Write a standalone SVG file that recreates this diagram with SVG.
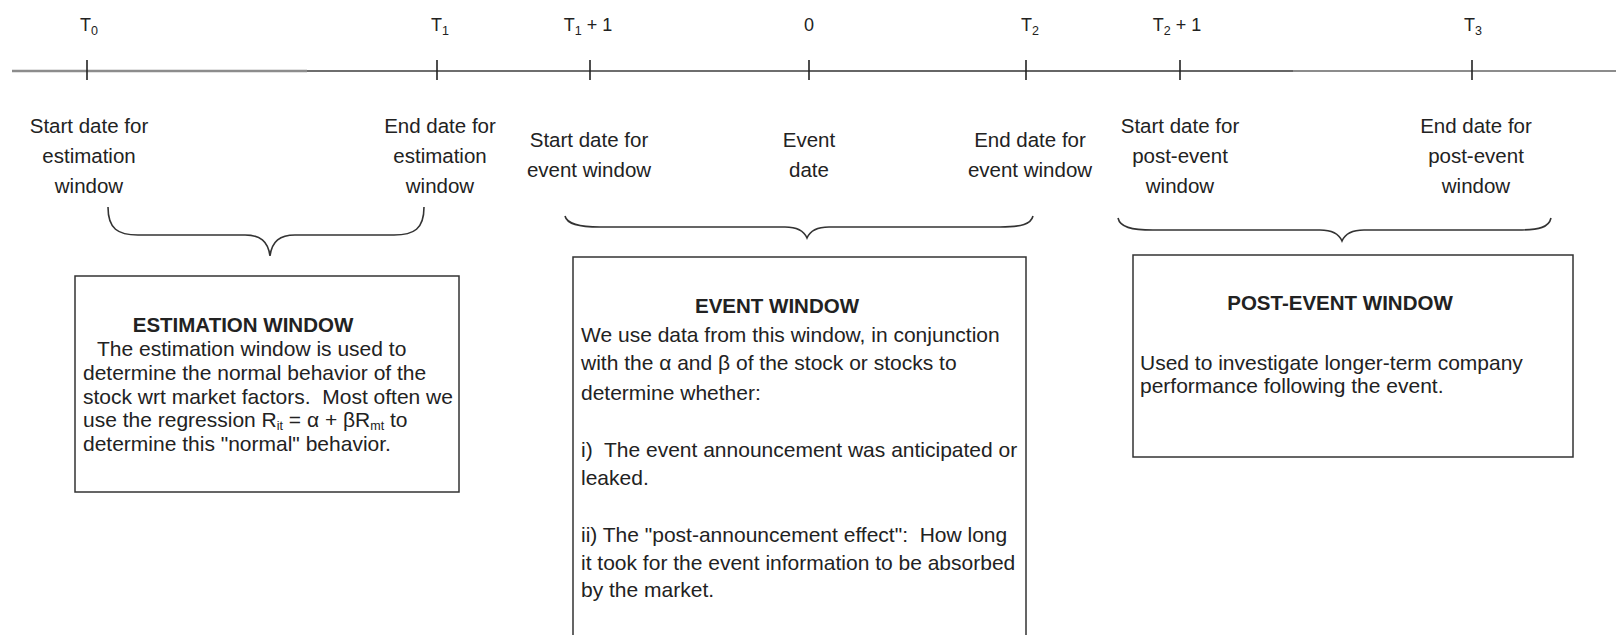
<svg xmlns="http://www.w3.org/2000/svg" width="1616" height="635" viewBox="0 0 1616 635">
  <style>
    text { font-family: "Liberation Sans", Arial, sans-serif; fill: #222; }
    .tick-label { font-size: 18px; text-anchor: middle; }
    .sub { font-size: 12.5px; }
    .date-label { font-size: 20.5px; text-anchor: middle; }
    .title { font-size: 20.5px; font-weight: bold; text-anchor: middle; }
    .body { font-size: 21px; }
    .box { fill: #fff; stroke: #333; stroke-width: 1.5; }
    .tick { stroke: #222; stroke-width: 1.6; }
    .brace { fill: none; stroke: #333; stroke-width: 1.6; }
  </style>

  <rect width="1616" height="635" fill="#fff"/>

  <!-- time axis -->
  <g id="axis">
    <line x1="12" y1="71" x2="307" y2="71" stroke="#8c8c8c" stroke-width="2.4"/>
    <line x1="307" y1="71" x2="809" y2="71" stroke="#6e6e6e" stroke-width="2"/>
    <line x1="809" y1="71" x2="1293" y2="71" stroke="#333" stroke-width="1.6"/>
    <line x1="1293" y1="71" x2="1616" y2="71" stroke="#8c8c8c" stroke-width="2.2"/>
    <line class="tick" x1="87" y1="60" x2="87" y2="80"/>
    <line class="tick" x1="437" y1="60" x2="437" y2="80"/>
    <line class="tick" x1="590" y1="60" x2="590" y2="80"/>
    <line class="tick" x1="809" y1="60" x2="809" y2="80"/>
    <line class="tick" x1="1026" y1="60" x2="1026" y2="80"/>
    <line class="tick" x1="1180" y1="60" x2="1180" y2="80"/>
    <line class="tick" x1="1472" y1="60" x2="1472" y2="80"/>
  </g>

  <!-- axis point names -->
  <g id="point-names">
    <text class="tick-label" x="89" y="31">T<tspan class="sub" dy="4">0</tspan></text>
    <text class="tick-label" x="440" y="31">T<tspan class="sub" dy="4">1</tspan></text>
    <text class="tick-label" x="588" y="31">T<tspan class="sub" dy="4">1</tspan><tspan dy="-4"> + 1</tspan></text>
    <text class="tick-label" x="809" y="31">0</text>
    <text class="tick-label" x="1030" y="31">T<tspan class="sub" dy="4">2</tspan></text>
    <text class="tick-label" x="1177" y="31">T<tspan class="sub" dy="4">2</tspan><tspan dy="-4"> + 1</tspan></text>
    <text class="tick-label" x="1473" y="31">T<tspan class="sub" dy="4">3</tspan></text>
  </g>

  <!-- date descriptions under the axis -->
  <g id="date-start-estimation">
    <text class="date-label" x="89" y="133">Start date for</text>
    <text class="date-label" x="89" y="163">estimation</text>
    <text class="date-label" x="89" y="193">window</text>
  </g>
  <g id="date-end-estimation">
    <text class="date-label" x="440" y="133">End date for</text>
    <text class="date-label" x="440" y="163">estimation</text>
    <text class="date-label" x="440" y="193">window</text>
  </g>
  <g id="date-start-event">
    <text class="date-label" x="589" y="147">Start date for</text>
    <text class="date-label" x="589" y="177">event window</text>
  </g>
  <g id="date-event">
    <text class="date-label" x="809" y="147">Event</text>
    <text class="date-label" x="809" y="177">date</text>
  </g>
  <g id="date-end-event">
    <text class="date-label" x="1030" y="147">End date for</text>
    <text class="date-label" x="1030" y="177">event window</text>
  </g>
  <g id="date-start-post">
    <text class="date-label" x="1180" y="133">Start date for</text>
    <text class="date-label" x="1180" y="163">post-event</text>
    <text class="date-label" x="1180" y="193">window</text>
  </g>
  <g id="date-end-post">
    <text class="date-label" x="1476" y="133">End date for</text>
    <text class="date-label" x="1476" y="163">post-event</text>
    <text class="date-label" x="1476" y="193">window</text>
  </g>

  <!-- braces grouping each window -->
  <g id="connectors">
    <path class="brace" d="M108,207 C108,229 118,235 138,235 L245,235 C260,235 268,241 270,256 C272,241 280,235 295,235 L394,235 C414,235 424,229 424,207"/>
    <path class="brace" d="M565,216 C567,224 578,227 600,227 L785,227 C798,227 804,231 807,238 C810,231 816,227 829,227 L1000,227 C1022,227 1031,224 1033,216"/>
    <path class="brace" d="M1118,218 C1120,227 1131,230 1153,230 L1320,230 C1333,230 1339,234 1342,241 C1345,234 1351,230 1364,230 L1518,230 C1540,230 1549,227 1551,218"/>
  </g>

  <!-- estimation window -->
  <g id="estimation-window">
    <rect class="box" x="75" y="276" width="384" height="216"/>
    <text class="title" x="243" y="332">ESTIMATION WINDOW</text>
    <text class="body" x="97" y="356">The estimation window is used to</text>
    <text class="body" x="83" y="380">determine the normal behavior of the</text>
    <text class="body" x="83" y="404">stock wrt market factors.&#160; Most often we</text>
    <text class="body" x="83" y="427">use the regression R<tspan font-size="12.5" dy="3">it</tspan><tspan dy="-3"> = α + βR</tspan><tspan font-size="12.5" dy="3">mt</tspan><tspan dy="-3"> to</tspan></text>
    <text class="body" x="83" y="451">determine this "normal" behavior.</text>
  </g>

  <!-- event window -->
  <g id="event-window">
    <rect class="box" x="573" y="257" width="453" height="400"/>
    <text class="title" x="777" y="313">EVENT WINDOW</text>
    <text class="body" x="581" y="342">We use data from this window, in conjunction</text>
    <text class="body" x="581" y="370">with the α and β of the stock or stocks to</text>
    <text class="body" x="581" y="400">determine whether:</text>
    <text class="body" x="581" y="457">i)&#160; The event announcement was anticipated or</text>
    <text class="body" x="581" y="485">leaked.</text>
    <text class="body" x="581" y="542">ii) The "post-announcement effect":&#160; How long</text>
    <text class="body" x="581" y="570">it took for the event information to be absorbed</text>
    <text class="body" x="581" y="597">by the market.</text>
  </g>

  <!-- post-event window -->
  <g id="post-event-window">
    <rect class="box" x="1133" y="255" width="440" height="202"/>
    <text class="title" x="1340" y="310">POST-EVENT WINDOW</text>
    <text class="body" x="1140" y="370">Used to investigate longer-term company</text>
    <text class="body" x="1140" y="393">performance following the event.</text>
  </g>
</svg>
